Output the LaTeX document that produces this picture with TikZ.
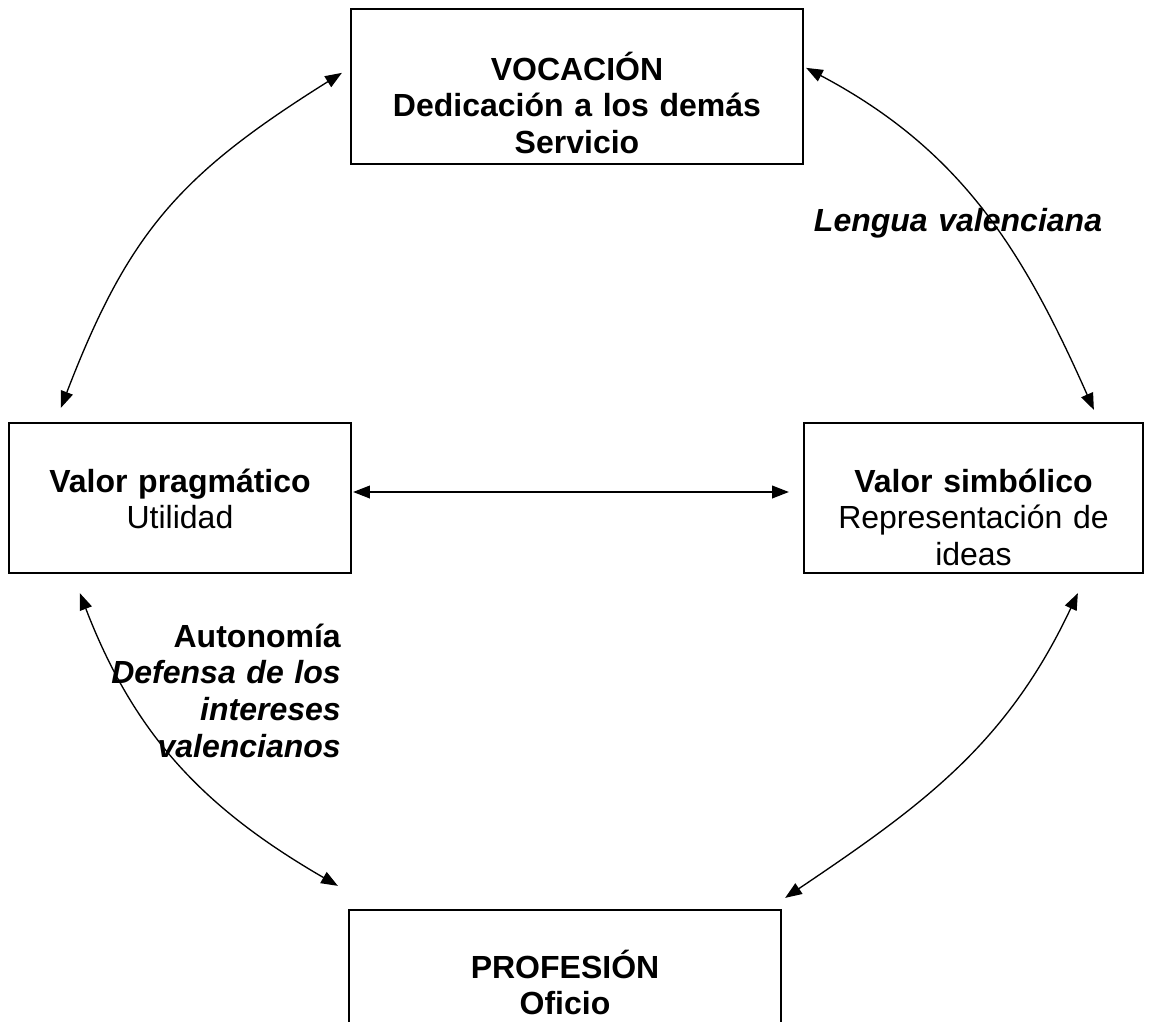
\documentclass[tikz,border=0pt]{standalone}
\usepackage{fontspec}
\setmainfont{Liberation Sans}
\usetikzlibrary{arrows.meta,calc}
\begin{document}
\begin{tikzpicture}[x=0.75pt,y=-0.75pt,
  box/.style={draw, line width=1.7pt, rectangle, inner sep=0pt},
  txt/.style={font=\fontsize{24}{27.6}\selectfont, inner sep=0pt, text width=300pt, align=center, anchor=base},
  arr/.style={line width=1pt, {Triangle[length=12.5pt,width=9.5pt]}-{Triangle[length=12.5pt,width=9.5pt]}}]
\useasboundingbox (0,0) rectangle (1153,1021);
% boxes
\node[box, minimum width=339pt, minimum height=116.25pt] (vo) at (577,86.5) {};
\node[box, minimum width=256.5pt, minimum height=112.5pt] (lp) at (180,498) {};
\node[box, minimum width=254.25pt, minimum height=112.5pt] (sb) at (973.5,498) {};
\node[box, minimum width=324pt, minimum height=97.5pt] (pr) at (565,975) {};
% box texts
\node[txt] (vot) at (577,80) {\bfseries VOCACIÓN\\Dedicación a los demás\\Servicio};
\node[txt] (lpt) at (180,492) {\textbf{Valor pragmático}\\Utilidad};
\node[txt] (sbt) at (973.5,492) {\textbf{Valor simbólico}\\Representación de\\ideas};
\node[txt] (prt) at (565,978) {\bfseries PROFESIÓN\\Oficio};
% labels
\node[txt, font=\fontsize{24}{27.6}\selectfont\bfseries\itshape] (lv) at (958,231) {Lengua valenciana};
\node[txt, align=right, anchor=base east] (au) at (341,647) {\bfseries Autonomía\\\itshape Defensa de los\\intereses\\valencianos};
% connectors
\draw[arr] ($(lp.north west)+(53,-14)$) .. controls +(68,-177) and +(-161,101) .. ($(vo.north west)+(-8,65)$);
\draw[arr] ($(sb.north west)+(291,-12)$) .. controls +(-71,-160) and +(155,82) .. ($(vo.north east)+(2,60)$);
\draw[arr] ($(sb.south west)+(275,19)$) .. controls +(-71,151) and +(138,-93) .. ($(pr.north east)+(3,-11)$);
\draw[arr] ($(lp.south west)+(72,19)$) .. controls +(55,143) and +(-133,-77) .. ($(pr.north west)+(-10,-23)$);
\draw[arr] ($(lp.east)+(1,-6)$) -- ($(sb.west)+(-14,-6)$);
\end{tikzpicture}
\end{document}
